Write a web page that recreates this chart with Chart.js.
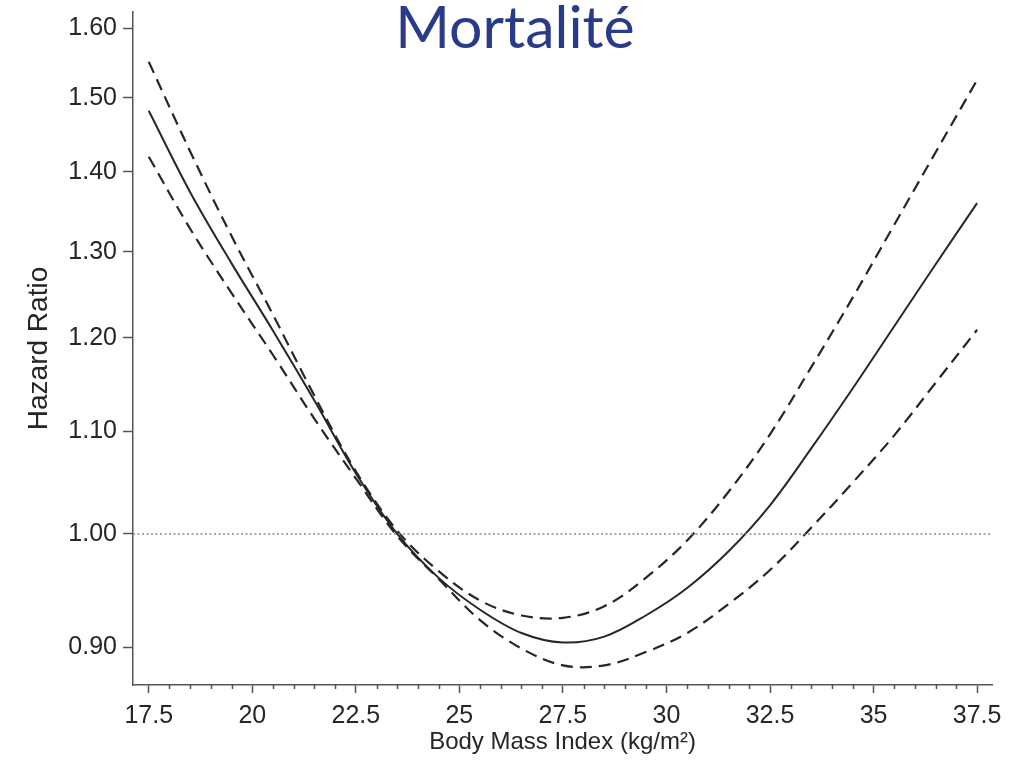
<!DOCTYPE html>
<html>
<head>
<meta charset="utf-8">
<script src="https://cdn.jsdelivr.net/npm/chart.js@4.4.0/dist/chart.umd.min.js"></script>
<style>
  html, body { margin: 0; padding: 0; background: #ffffff; }
  #wrap { position: relative; width: 1031px; height: 763px; }
  canvas { display: block; }
</style>
</head>
<body>
<div id="wrap"><canvas id="c" width="1031" height="763"></canvas></div>
<script>
// ---- Data ----
const chartTitle = 'Mortalité';
const xTitle = 'Body Mass Index (kg/m²)';
const yTitle = 'Hazard Ratio';

const bmi = [17.5, 18.5, 19.5, 20.5, 21.5, 22.5, 23.5, 24.5, 25.5, 26.5, 27.5,
             28.5, 29.5, 30.5, 31.5, 32.5, 33.5, 34.5, 35.5, 36.5, 37.5];
const hrEstimate = [1.482, 1.374, 1.286, 1.208, 1.132, 1.058, 1.000, 0.960, 0.932, 0.912, 0.904,
                    0.909, 0.927, 0.951, 0.984, 1.027, 1.083, 1.145, 1.213, 1.285, 1.360];
const hrUpper    = [1.551, 1.427, 1.319, 1.226, 1.137, 1.060, 1.003, 0.966, 0.940, 0.927, 0.925,
                    0.935, 0.960, 0.994, 1.040, 1.097, 1.168, 1.246, 1.333, 1.426, 1.525];
const hrLower    = [1.420, 1.328, 1.251, 1.181, 1.113, 1.053, 0.998, 0.959, 0.923, 0.899, 0.885,
                    0.885, 0.896, 0.912, 0.937, 0.967, 1.006, 1.049, 1.096, 1.151, 1.209];

const referenceHR = [1.0];
const xTicks = [17.5, 20, 22.5, 25, 27.5, 30, 32.5, 35, 37.5];
const xMinorTicks = [18, 18.5, 19, 19.5, 20.5, 21, 21.5, 22, 23, 23.5, 24, 24.5, 25.5, 26, 26.5, 27,
                     28, 28.5, 29, 29.5, 30.5, 31, 31.5, 32, 33, 33.5, 34, 34.5, 35.5, 36, 36.5, 37];
const yTicks = [0.9, 1.0, 1.1, 1.2, 1.3, 1.4, 1.5, 1.6];
const xRange = [17.12, 37.86];
const yRange = [0.869, 1.6245];

// ---- Styling ----
const ink = '#262626';
const axisColor = '#555555';
const tickFont = { family: '"Liberation Sans", Arial, sans-serif', size: 25 };
const xTitleFont = { family: '"Liberation Sans", Arial, sans-serif', size: 24 };
const yTitleFont = { family: '"Liberation Sans", Arial, sans-serif', size: 28 };

const toPts = (ys) => bmi.map((x, i) => ({ x: x, y: ys[i] }));

const minorTickPlugin = {
  id: 'minorTicks',
  afterDraw(chart) {
    const xs = chart.scales.x;
    const ctx = chart.ctx;
    ctx.save();
    ctx.strokeStyle = axisColor;
    ctx.lineWidth = 1.5;
    ctx.beginPath();
    xMinorTicks.forEach(v => {
      const px = Math.round(xs.getPixelForValue(v)) + 0.5;
      ctx.moveTo(px, xs.top);
      ctx.lineTo(px, xs.top + 4);
    });
    ctx.stroke();
    ctx.restore();
  }
};

const titlePlugin = {
  id: 'mainTitle',
  afterDraw(chart) {
    const ctx = chart.ctx;
    ctx.save();
    ctx.font = '59px Lato, "Open Sans", sans-serif';
    ctx.fillStyle = '#2a3a8a';
    ctx.textAlign = 'center';
    ctx.textBaseline = 'alphabetic';
    ctx.fillText(chartTitle, 515, 48);
    ctx.restore();
  }
};

const lineCommon = { pointRadius: 0, tension: 0.35, borderColor: ink };

new Chart(document.getElementById('c'), {
  type: 'line',
  data: {
    datasets: [
      {
        label: 'Reference',
        data: [{ x: xRange[0], y: referenceHR[0] }, { x: xRange[1], y: referenceHR[0] }],
        borderColor: '#8a8a8a',
        borderWidth: 1.5,
        borderDash: [2, 2.5],
        pointRadius: 0,
        tension: 0
      },
      Object.assign({ label: 'Upper CI', data: toPts(hrUpper), borderWidth: 2.2, borderDash: [12, 7] }, lineCommon),
      Object.assign({ label: 'Hazard ratio', data: toPts(hrEstimate), borderWidth: 2 }, lineCommon),
      Object.assign({ label: 'Lower CI', data: toPts(hrLower), borderWidth: 2.2, borderDash: [12, 7] }, lineCommon)
    ]
  },
  options: {
    responsive: false,
    animation: false,
    devicePixelRatio: 1,
    layout: { padding: { top: 12, right: 39, left: 0, bottom: 0 } },
    plugins: {
      legend: { display: false },
      tooltip: { enabled: false },
      title: { display: false }
    },
    scales: {
      x: {
        type: 'linear',
        min: xRange[0],
        max: xRange[1],
        afterBuildTicks: (s) => { s.ticks = xTicks.map(v => ({ value: v })); },
        afterFit: (s) => { s.height = 78; s.paddingLeft = 0; s.paddingRight = 0; },
        ticks: {
          callback: (v) => String(v),
          font: tickFont,
          color: ink,
          padding: 8,
          maxRotation: 0,
          autoSkip: false
        },
        grid: {
          display: true,
          drawOnChartArea: false,
          drawTicks: true,
          tickLength: 8,
          tickColor: axisColor,
          tickWidth: 1.5
        },
        border: { display: true, color: axisColor, width: 1.5 },
        title: {
          display: true,
          text: xTitle,
          font: xTitleFont,
          color: ink,
          padding: { top: 0, bottom: 6 }
        }
      },
      y: {
        type: 'logarithmic',
        min: yRange[0],
        max: yRange[1],
        afterBuildTicks: (s) => { s.ticks = yTicks.map(v => ({ value: v })); },
        afterFit: (s) => { s.width = 133; s.paddingTop = 0; s.paddingBottom = 0; },
        ticks: {
          callback: (v) => Number(v).toFixed(2),
          font: tickFont,
          color: ink,
          padding: 6,
          autoSkip: false
        },
        grid: {
          display: true,
          drawOnChartArea: false,
          drawTicks: true,
          tickLength: 10,
          tickColor: axisColor,
          tickWidth: 1.5
        },
        border: { display: true, color: axisColor, width: 1.5 },
        title: {
          display: true,
          text: yTitle,
          font: yTitleFont,
          color: ink,
          padding: { top: 22, bottom: 0 }
        }
      }
    }
  },
  plugins: [minorTickPlugin, titlePlugin]
});
</script>
</body>
</html>
